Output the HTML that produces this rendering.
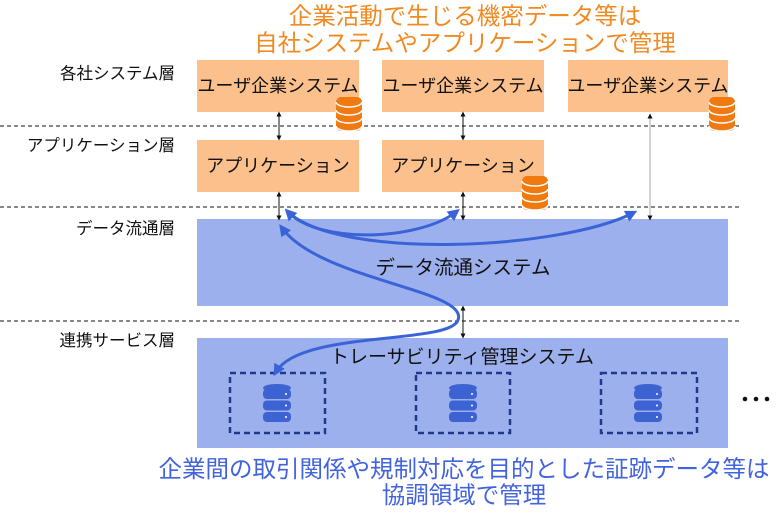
<!DOCTYPE html>
<html><head><meta charset="utf-8"><style>
html,body{margin:0;padding:0;background:#fff;width:780px;height:513px;overflow:hidden}
svg text{font-family:"Liberation Sans","Noto Sans CJK JP",sans-serif}
</style></head><body>
<svg width="780" height="513" viewBox="0 0 780 513" xmlns="http://www.w3.org/2000/svg">
<defs>
<marker id="ab" viewBox="0 0 10 10" refX="5" refY="5" markerWidth="5" markerHeight="5" orient="auto-start-reverse"><path d="M0,0L10,5L0,10z" fill="#111"/></marker>
<marker id="bl" viewBox="0 0 10 10" refX="6" refY="5" markerWidth="4" markerHeight="4" orient="auto-start-reverse"><path d="M0,0L10,5L0,10z" fill="#3B63D8"/></marker>
<g id="odb">
<rect x="0" y="0" width="26" height="34" rx="5" fill="#F07A10"/>
<ellipse cx="13" cy="5" rx="13" ry="5" fill="#F07A10"/>
<path d="M0,5 a13,5 0 0 0 26,0 M0,13 a13,5 0 0 0 26,0 M0,21 a13,5 0 0 0 26,0 M0,29 a13,5 0 0 0 26,0" stroke="#fff" stroke-width="1.5" fill="none"/>
</g>
<g id="bdb">
<ellipse cx="14" cy="4" rx="14" ry="4" fill="#3D63D2"/>
<rect x="0" y="5" width="28" height="10" rx="4" fill="#3D63D2"/>
<rect x="0" y="16.5" width="28" height="10" rx="4" fill="#3D63D2"/>
<rect x="0" y="28" width="28" height="10" rx="4" fill="#3D63D2"/>
<circle cx="23" cy="10" r="1" fill="#fff"/><circle cx="23" cy="21.5" r="1" fill="#fff"/><circle cx="23" cy="33" r="1" fill="#fff"/>
</g>
</defs>
<text x="465" y="24" font-size="23.5" fill="#F08A22" text-anchor="middle">企業活動で生じる機密データ等は</text>
<text x="465" y="51" font-size="23.5" fill="#F08A22" text-anchor="middle">自社システムやアプリケーションで管理</text>
<g font-size="16.5" fill="#111" text-anchor="end">
<text x="175" y="79">各社システム層</text>
<text x="175" y="151">アプリケーション層</text>
<text x="175" y="234">データ流通層</text>
<text x="175" y="346">連携サービス層</text>
</g>
<g stroke="#111" stroke-width="1" stroke-dasharray="4,3">
<line x1="0" y1="126" x2="740" y2="126"/>
<line x1="0" y1="207" x2="740" y2="207"/>
<line x1="0" y1="321" x2="740" y2="321"/>
</g>
<g fill="#FBC08C">
<rect x="197" y="60" width="162" height="52"/>
<rect x="382" y="60" width="162" height="52"/>
<rect x="568" y="60" width="160" height="52"/>
<rect x="197" y="140" width="162" height="52"/>
<rect x="382" y="140" width="162" height="52"/>
</g>
<g font-size="18" fill="#111" text-anchor="middle">
<text x="278" y="92">ユーザ企業システム</text>
<text x="463" y="92">ユーザ企業システム</text>
<text x="648" y="92">ユーザ企業システム</text>
<text x="278" y="172">アプリケーション</text>
<text x="463" y="172">アプリケーション</text>
</g>
<use href="#odb" x="336" y="97"/>
<use href="#odb" x="522" y="176"/>
<use href="#odb" x="709" y="97"/>
<rect x="197" y="219" width="531" height="87" fill="#9BB0EC"/>
<rect x="197" y="338" width="531" height="110" fill="#9BB0EC"/>
<text x="463" y="274" font-size="19.5" fill="#111" text-anchor="middle">データ流通システム</text>
<text x="462" y="363" font-size="19" fill="#111" text-anchor="middle">トレーサビリティ管理システム</text>
<g fill="none" stroke="#1F3A8A" stroke-width="2.5" stroke-dasharray="6,4">
<rect x="230" y="373" width="95" height="60"/>
<rect x="416" y="373" width="94" height="60"/>
<rect x="601" y="373" width="96" height="60"/>
</g>
<use href="#bdb" x="263" y="384"/>
<use href="#bdb" x="449" y="384"/>
<use href="#bdb" x="634" y="384"/>
<g fill="#111"><circle cx="745" cy="399" r="2.3"/><circle cx="756" cy="399" r="2.3"/><circle cx="767" cy="399" r="2.3"/></g>
<g stroke="#111" stroke-width="1" marker-start="url(#ab)" marker-end="url(#ab)">
<line x1="279" y1="114" x2="279" y2="138"/>
<line x1="463" y1="114" x2="463" y2="138"/>
<line x1="279" y1="194" x2="279" y2="218"/>
<line x1="463" y1="194" x2="463" y2="218"/>
<line x1="463" y1="308" x2="463" y2="336"/>
</g>
<line x1="650" y1="116" x2="650" y2="218" stroke="#aaa" stroke-width="1" marker-start="url(#ab)" marker-end="url(#ab)"/>
<g fill="none" stroke="#3B63D8" stroke-width="3">
<path d="M288,212 C320,245 420,240 456,212" marker-start="url(#bl)" marker-end="url(#bl)"/>
<path d="M288,212 C340,260 560,250 633,213" marker-end="url(#bl)"/>
<path d="M282,228 C320,280 470,290 458,320 C450,345 300,330 276,372" marker-start="url(#bl)" marker-end="url(#bl)"/>
</g>
<text x="464" y="477" font-size="23.5" fill="#4263DE" text-anchor="middle">企業間の取引関係や規制対応を目的とした証跡データ等は</text>
<text x="464" y="503" font-size="23.5" fill="#4263DE" text-anchor="middle">協調領域で管理</text>
</svg>
</body></html>
